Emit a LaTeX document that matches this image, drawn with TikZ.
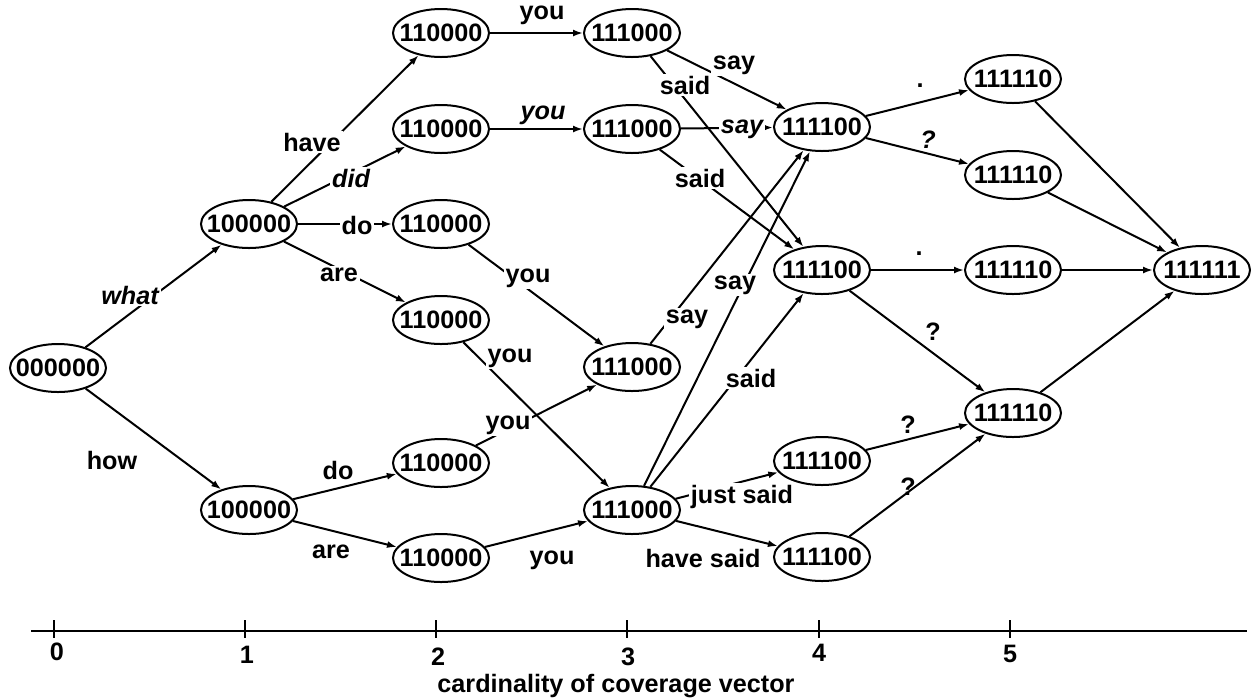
\documentclass[tikz,border=0pt]{standalone}
\usepackage{fontspec}
\setmainfont{Liberation Sans}
\usetikzlibrary{arrows.meta,shapes.geometric}
\newcommand\stt[1]{\makebox[0pt]{#1}}
\begin{document}
\begin{tikzpicture}[x=0.5pt,y=-0.5pt,
  st/.style={ellipse,draw,line width=1pt,minimum width=48pt,minimum height=24pt,inner sep=0pt,font=\fontsize{12.6}{14}\selectfont\bfseries},
  ed/.style={line width=1pt,-{Latex[length=5pt,width=3.5pt]}},
  lbl/.style={fill=white,inner sep=1pt,font=\fontsize{12.6}{14}\selectfont\bfseries},
  ilbl/.style={fill=white,inner sep=1pt,font=\fontsize{12.6}{14}\selectfont\bfseries\itshape},
  plbl/.style={inner sep=0pt,font=\fontsize{12.6}{14}\selectfont\bfseries},
  iplbl/.style={inner sep=0pt,font=\fontsize{12.6}{14}\selectfont\bfseries\itshape},
  axlbl/.style={inner sep=0pt,font=\fontsize{12.6}{14}\selectfont\bfseries}]
\useasboundingbox (0,0) rectangle (1251,698);
% nodes
\node[st] (n0) at (58,368) {\stt{000000}};
\node[st] (a1) at (249,224) {\stt{100000}};
\node[st] (a2) at (249,510) {\stt{100000}};
\node[st] (b1) at (441,33) {\stt{110000}};
\node[st] (b2) at (441,129) {\stt{110000}};
\node[st] (b3) at (441,224) {\stt{110000}};
\node[st] (b4) at (441,320) {\stt{110000}};
\node[st] (b5) at (441,463) {\stt{110000}};
\node[st] (b6) at (441,558) {\stt{110000}};
\node[st] (c1) at (632,33) {\stt{111000}};
\node[st] (c2) at (632,129) {\stt{111000}};
\node[st] (c3) at (632,367) {\stt{111000}};
\node[st] (c4) at (632,510) {\stt{111000}};
\node[st] (d1) at (822,127) {\stt{111100}};
\node[st] (d2) at (822,270) {\stt{111100}};
\node[st] (d3) at (822,461) {\stt{111100}};
\node[st] (d4) at (822,557) {\stt{111100}};
\node[st] (e1) at (1013,79) {\stt{111110}};
\node[st] (e2) at (1013,175) {\stt{111110}};
\node[st] (e3) at (1013,270) {\stt{111110}};
\node[st] (e4) at (1013,413) {\stt{111110}};
\node[st] (f) at (1202,270) {\stt{111111}};
% edges
\draw[ed] (n0) -- (a1);
\draw[ed] (n0) -- (a2);
\draw[ed] (a1) -- (b1);
\draw[ed] (a1) -- (b2);
\draw[ed] (a1) -- (b3);
\draw[ed] (a1) -- (b4);
\draw[ed] (a2) -- (b5);
\draw[ed] (a2) -- (b6);
\draw[ed] (b1) -- (c1);
\draw[ed] (b2) -- (c2);
\draw[ed] (b3) -- (c3);
\draw[ed] (b4) -- (c4);
\draw[ed] (b5) -- (c3);
\draw[ed] (b6) -- (c4);
\draw[ed] (c1) -- (d1);
\draw[ed] (c1) -- (d2);
\draw[ed] (c2) -- (d1);
\draw[ed] (c2) -- (d2);
\draw[ed] (c3) -- (d1);
\draw[ed] (c4) -- (d1);
\draw[ed] (c4) -- (d2);
\draw[ed] (c4) -- (d3);
\draw[ed] (c4) -- (d4);
\draw[ed] (d1) -- (e1);
\draw[ed] (d1) -- (e2);
\draw[ed] (d2) -- (e3);
\draw[ed] (d2) -- (e4);
\draw[ed] (d3) -- (e4);
\draw[ed] (d4) -- (e4);
\draw[ed] (e1) -- (f);
\draw[ed] (e2) -- (f);
\draw[ed] (e3) -- (f);
\draw[ed] (e4) -- (f);
% labels
\node[ilbl] (lwhat) at (130,295) {what};
\node[plbl] (lhow) at (112,460) {how};
\node[lbl] (lhave) at (312,142) {have};
\node[ilbl] (ldid) at (351,178) {did};
\node[lbl] (ldo1) at (357,225) {do};
\node[lbl] (lare1) at (339,275) {are};
\node[lbl] (ldo2) at (338,470) {do};
\node[lbl] (lare2) at (331,552) {are};
\node[plbl] (lyou1) at (542,15) {you};
\node[iplbl] (lyou2) at (543,115) {you};
\node[lbl] (lyou3) at (528,278) {you};
\node[lbl] (lyou4) at (510,358) {you};
\node[lbl] (lyou5) at (508,425) {you};
\node[plbl] (lyou6) at (552,560) {you};
\node[lbl] (lsay1) at (734,65) {say};
\node[lbl] (lsaid1) at (685,85) {said};
\node[ilbl] (lsay2) at (742,129) {say};
\node[lbl] (lsaid2) at (700,178) {said};
\node[lbl] (lsay3) at (687,319) {say};
\node[lbl] (lsay4) at (735,285) {say};
\node[lbl] (lsaid4) at (751,378) {said};
\node[lbl] (ljust) at (742,497) {just said};
\node[lbl] (lhsaid) at (703,558) {have said};
\node[plbl,anchor=base] (ldot1) at (920,87) {.};
\node[iplbl] (lq1) at (928,140) {?};
\node[plbl,anchor=base] (ldot2) at (919,255) {.};
\node[plbl] (lq2) at (933,332) {?};
\node[plbl] (lq3) at (908,425) {?};
\node[plbl] (lq4) at (908,487) {?};
% axis
\coordinate (axs) at (31,631);
\coordinate (axe) at (1247,631);
\draw[line width=1pt] (axs) -- (axe);
\foreach \x in {54,245,436,627,819,1010}{\draw[line width=1pt] (\x,620) -- (\x,638);}
\node[axlbl] (t0) at (57,652) {0};
\node[axlbl] (t1) at (247,655) {1};
\node[axlbl] (t2) at (438,657) {2};
\node[axlbl] (t3) at (628,657) {3};
\node[axlbl] (t4) at (819,653) {4};
\node[axlbl] (t5) at (1010,654) {5};
\node[axlbl] (cap) at (616,686) {cardinality of coverage vector};
\end{tikzpicture}
\end{document}
